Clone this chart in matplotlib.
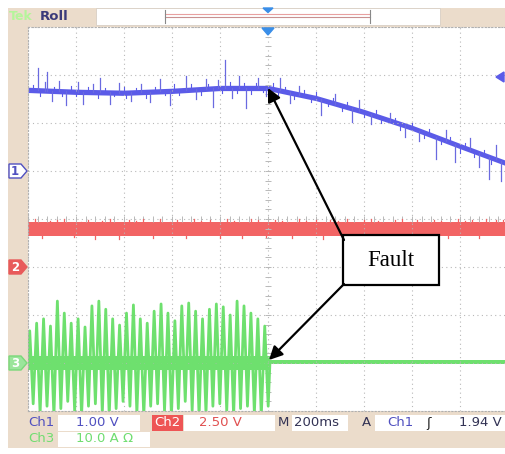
import numpy as np
import matplotlib.pyplot as plt
from matplotlib.patches import Rectangle, Polygon, FancyArrowPatch

# scope settings
ch1_scale, ch1_pos = 1.00, 1.0     # V/div, marker position (div)
ch2_scale, ch2_pos = 2.50, -1.0
ch3_scale, ch3_pos = 10.0, -3.0
time_div = 0.2                      # s/div
fault_t = 0.008

# Ch1 (blue) level read every division, V
ch1_t = [-1.0, -0.8, -0.6, -0.4, -0.2, 0.0, 0.2, 0.4, 0.6, 0.8, 1.0]
ch1_v = [1.69, 1.65, 1.63, 1.67, 1.73, 1.73, 1.52, 1.23, 0.90, 0.52, 0.15]
ch1_noise = 0.055
ch1_spike_t = [-0.96, -0.93, -0.92, -0.90, -0.87, -0.84, -0.79, -0.77, -0.73, -0.70,
               -0.66, -0.62, -0.57, -0.53, -0.49, -0.45, -0.41, -0.34, -0.30, -0.26,
               -0.23, -0.21, -0.18, -0.15, -0.12, -0.09, -0.04, -0.01, 0.05, 0.09,
               0.13, 0.22, 0.28, 0.35, 0.38, 0.43, 0.51, 0.57, 0.63, 0.70,
               0.74, 0.78, 0.84, 0.88, 0.92, 0.95, 0.97]
ch1_spike_v = [0.46, 0.17, 0.38, -0.21, 0.21, -0.29, 0.21, -0.25, 0.17, 0.29,
               -0.25, 0.21, -0.17, 0.17, -0.21, 0.25, -0.29, 0.29, -0.21, 0.21,
               -0.38, 0.17, 0.58, -0.21, 0.25, -0.42, 0.21, -0.17, 0.25, -0.21,
               0.17, -0.33, 0.21, -0.29, 0.21, -0.21, 0.17, -0.25, -0.21, -0.46,
               0.21, -0.38, 0.25, -0.29, -0.46, 0.29, -0.42]
# small fuzz on the blue trace
ch1_fuzz_t = [-0.98, -0.95, -0.89, -0.86, -0.82, -0.80, -0.75, -0.71, -0.68, -0.64,
              -0.60, -0.59, -0.55, -0.51, -0.47, -0.43, -0.39, -0.37, -0.32, -0.28,
              -0.25, -0.19, -0.16, -0.13, -0.10, -0.07, -0.05, -0.02, 0.02, 0.04,
              0.07, 0.11, 0.15, 0.18, 0.20, 0.25, 0.27, 0.31, 0.33, 0.40,
              0.45, 0.47, 0.53, 0.55, 0.60, 0.65, 0.67, 0.72, 0.76, 0.80,
              0.82, 0.86, 0.90, 0.93, 0.99]
ch1_fuzz_v = [0.10, -0.12, 0.09, -0.10, 0.12, -0.09, 0.11, -0.13, 0.10, -0.08,
              0.12, -0.11, 0.09, -0.12, 0.10, -0.09, 0.13, -0.10, 0.11, -0.12,
              0.09, -0.10, 0.12, -0.11, 0.10, -0.13, 0.11, -0.09, 0.12, -0.10,
              0.09, -0.12, 0.11, -0.10, 0.13, -0.09, 0.10, -0.12, 0.11, -0.10,
              0.12, -0.11, 0.09, -0.13, 0.10, -0.12, 0.11, -0.10, 0.12, -0.14,
              0.10, -0.12, 0.11, -0.13, 0.10]

# Ch2 (red) level, V
ch2_level = 1.98
ch2_noise = 0.36
ch2_spike_t = [-0.97, -0.94, -0.91, -0.88, -0.85, -0.81, -0.78, -0.75, -0.72, -0.69,
               -0.66, -0.62, -0.58, -0.55, -0.52, -0.48, -0.45, -0.41, -0.38, -0.34,
               -0.31, -0.28, -0.24, -0.20, -0.17, -0.14, -0.11, -0.07, -0.04, -0.01,
               0.03, 0.06, 0.10, 0.13, 0.16, 0.20, 0.23, 0.26, 0.29, 0.33,
               0.36, 0.40, 0.43, 0.46, 0.49, 0.53, 0.56, 0.59, 0.62, 0.66,
               0.69, 0.72, 0.75, 0.79, 0.82, 0.85, 0.88, 0.91, 0.95, 0.98]
ch2_spike_v = [0.22, -0.20, 0.12, 0.18, 0.25, -0.15, 0.10, 0.20, -0.22, 0.14,
               0.24, -0.22, 0.16, 0.12, 0.22, -0.18, 0.25, 0.10, 0.20, -0.16,
               0.22, 0.14, 0.18, -0.20, 0.24, 0.12, -0.16, 0.22, 0.18, -0.12,
               0.20, 0.15, -0.20, 0.24, 0.12, 0.16, -0.22, 0.20, 0.14, 0.25,
               -0.16, 0.18, 0.22, 0.12, -0.20, 0.16, 0.24, 0.10, 0.18, -0.22,
               0.20, 0.14, -0.16, 0.24, 0.12, 0.20, -0.18, 0.22, 0.16, 0.20]

# Ch3 (green) current peaks per cycle before the fault, A
ch3_top = [6.7, 8.3, 9.2, 7.7, 12.9, 10.4, 8.3, 9.2, 7.5, 11.9, 12.9, 11.2, 9.2, 7.9,
           10.4, 12.1, 9.2, 8.3, 10.8, 12.3, 10.4, 8.8, 11.9, 12.5, 10.8, 9.2, 11.2,
           12.3, 11.7, 10.0, 12.9, 11.9, 10.4, 9.2, 7.7]
ch3_bot = [-8.5, -10.5, -9.0, -11, -9.5, -8.0, -10.0, -11, -9.0, -8.5, -10.5, -11,
           -9.5, -8.0, -9.0, -10.5, -11, -9.0, -8.5, -10, -11, -9.5, -8.0, -10.0,
           -11, -10.5, -9.0, -8.5, -10.0, -11, -9.5, -9.0, -10.5, -11, -9.0]
ch3_core = 1.4
ch3_after = 0.2
ch3_after_noise = 0.4

blue = '#5b5be8'
red = '#f26464'
green = '#6ee06e'
beige = '#ebdccb'

W, H = 506, 454
fig = plt.figure(figsize=(W / 100, H / 100), dpi=100, facecolor='white')

# background layer in pixel coords
bg = fig.add_axes([0, 0, 1, 1], zorder=0)
bg.set_xlim(0, W); bg.set_ylim(H, 0); bg.axis('off')
bg.add_patch(Rectangle((8, 8), W - 8, 440, color=beige, lw=0))
bg.add_patch(Rectangle((96, 8), 344, 17, facecolor='white', edgecolor='#d8cfc4', lw=0.6))
bg.text(9, 16.5, 'Tek', color='#b4f59a', fontsize=9, fontweight='bold', va='center')
bg.text(40, 16.5, 'Roll', color='#3a3a7a', fontsize=9.5, fontweight='bold', va='center')
bg.plot([165, 370], [13.5, 13.5], color='#e8a0a0', lw=0.8)
bg.plot([165, 370], [17, 17], color='#c89090', lw=0.8)
bg.plot([165, 165], [10, 23], color='#888888', lw=0.8)
bg.plot([370, 370], [10, 23], color='#888888', lw=0.8)
bg.add_patch(Polygon([[263, 8], [273, 8], [268, 12.5]], color='#3a8ee8'))

# bottom readout
def box(x0, x1, y0, y1, c='white'):
    bg.add_patch(Rectangle((x0, y0), x1 - x0, y1 - y0, color=c, lw=0))

box(58, 140, 415, 431); box(184, 275, 415, 431); box(292, 348, 415, 431)
box(375, 506, 415, 431); box(58, 150, 432, 447)
box(152, 183, 415, 431, c='#ee5555')
fs = 9.5
ry1, ry2 = 423, 439
bg.text(28, ry1, 'Ch1', color='#5050c0', fontsize=fs, va='center')
bg.text(76, ry1, '1.00 V', color='#5050c0', fontsize=fs, va='center')
bg.text(154, ry1, 'Ch2', color='white', fontsize=fs, va='center')
bg.text(199, ry1, '2.50 V', color='#e05050', fontsize=fs, va='center')
bg.text(278, ry1, 'M', color='#333355', fontsize=fs, va='center')
bg.text(294, ry1, '200ms', color='#333355', fontsize=fs, va='center')
bg.text(362, ry1, 'A', color='#333355', fontsize=fs, va='center')
bg.text(387, ry1, 'Ch1', color='#5050c0', fontsize=fs, va='center')
bg.text(426, ry1, '\u0283', color='#222222', fontsize=fs, va='center')
bg.text(459, ry1, '1.94 V', color='#333355', fontsize=fs, va='center')
bg.text(28, ry2, 'Ch3', color='#70dd70', fontsize=fs, va='center')
bg.text(76, ry2, '10.0 A \u03a9', color='#70dd70', fontsize=fs, va='center')

# channel markers
def marker(y, label, face, edge, tc):
    bg.add_patch(Polygon([[9, y - 7], [21, y - 7], [27, y], [21, y + 7], [9, y + 7]],
                         facecolor=face, edgecolor=edge, lw=1))
    bg.text(15, y + 0.5, label, color=tc, fontsize=8.5, fontweight='bold',
            ha='center', va='center')

marker(171, '1', 'white', '#5050c0', '#5050c0')
marker(267, '2', '#e85a5a', '#e85a5a', 'white')
marker(363, '3', '#9be59b', '#7ad87a', 'white')

# main scope screen in divisions
ax = fig.add_axes([28 / W, (H - 411) / H, 480 / W, 384 / H], zorder=1)
ax.set_facecolor('white')
ax.set_xlim(-5 * time_div, 5 * time_div)
ax.set_ylim(-4, 4)
ax.set_xticks(np.arange(-5, 6) * time_div)
ax.set_yticks(np.arange(-4, 5))
ax.grid(True, color='#b8b8b8', lw=0.8, linestyle=(0, (1, 3)))
ax.tick_params(length=0, labelbottom=False, labelleft=False)
for s in ax.spines.values():
    s.set_color('#b0b0b0'); s.set_linestyle((0, (1, 2))); s.set_linewidth(0.8)
mt = np.arange(-25, 26) * time_div / 5
ax.plot(mt, np.zeros_like(mt), '|', color='#b8b8b8', ms=4, mew=0.7)
my = np.arange(-20, 21) / 5
ax.plot(np.zeros_like(my), my, '_', color='#b8b8b8', ms=4, mew=0.7)

# Ch2 red
base2 = ch2_level / ch2_scale + ch2_pos
ax.fill_between([-1, 1], base2 - ch2_noise / ch2_scale, base2 + ch2_noise / ch2_scale,
                color=red, lw=0)
for t, dv in zip(ch2_spike_t, ch2_spike_v):
    s = np.sign(dv) * ch2_noise / ch2_scale * 0.8
    ax.plot([t, t], [base2 + s, base2 + s + dv / ch2_scale], color=red, lw=0.9)

# Ch1 blue
d1 = np.array(ch1_v) / ch1_scale + ch1_pos
ax.fill_between(ch1_t, d1 - ch1_noise, d1 + ch1_noise, color=blue, lw=0)
for t, dv in zip(ch1_fuzz_t, ch1_fuzz_v):
    b = np.interp(t, ch1_t, d1)
    ax.plot([t, t], [b, b + dv / ch1_scale], color=blue, lw=0.8)
for t, dv in zip(ch1_spike_t, ch1_spike_v):
    b = np.interp(t, ch1_t, d1)
    ax.plot([t, t], [b, b + dv / ch1_scale], color='#6a6ae0', lw=0.9)

# Ch3 green
n = len(ch3_top)
period = (fault_t + 1.0) / n
gt, gv = [-1.0], [0.0]
for k in range(n):
    t0 = -1.0 + k * period
    gt += [t0 + 0.25 * period, t0 + 0.75 * period]
    gv += [ch3_top[k], ch3_bot[k]]
gt.append(fault_t); gv.append(0.0)
ax.plot(gt, np.array(gv) / ch3_scale + ch3_pos, color=green, lw=2.0)
ax.fill_between([-1.0, fault_t], ch3_pos - ch3_core / ch3_scale,
                ch3_pos + ch3_core / ch3_scale, color=green, lw=0)
ax.fill_between([fault_t, 1.0], ch3_pos + (ch3_after - ch3_after_noise) / ch3_scale,
                ch3_pos + (ch3_after + ch3_after_noise) / ch3_scale, color=green, lw=0)

# foreground overlay: markers, annotation
fg = fig.add_axes([0, 0, 1, 1], zorder=2)
fg.set_xlim(0, W); fg.set_ylim(H, 0); fg.axis('off'); fg.patch.set_alpha(0)
fg.add_patch(Polygon([[262, 28], [274, 28], [268, 35]], color='#3a8ee8'))
fg.add_patch(Polygon([[496, 77], [504, 72], [504, 82]], color=blue))
fg.add_patch(Rectangle((343, 235), 96, 50, facecolor='white', edgecolor='black', lw=1.6))
fg.text(391, 261, 'Fault', fontsize=16.5, family='Liberation Serif', ha='center', va='center')
for (x0, y0), (x1, y1) in [((344, 240), (268, 88)), ((344, 284), (269, 360))]:
    fg.add_patch(FancyArrowPatch((x0, y0), (x1, y1), arrowstyle='-|>', mutation_scale=20,
                                 color='black', lw=1.6, shrinkA=0, shrinkB=0))

fig.savefig('out.png', dpi=100)
